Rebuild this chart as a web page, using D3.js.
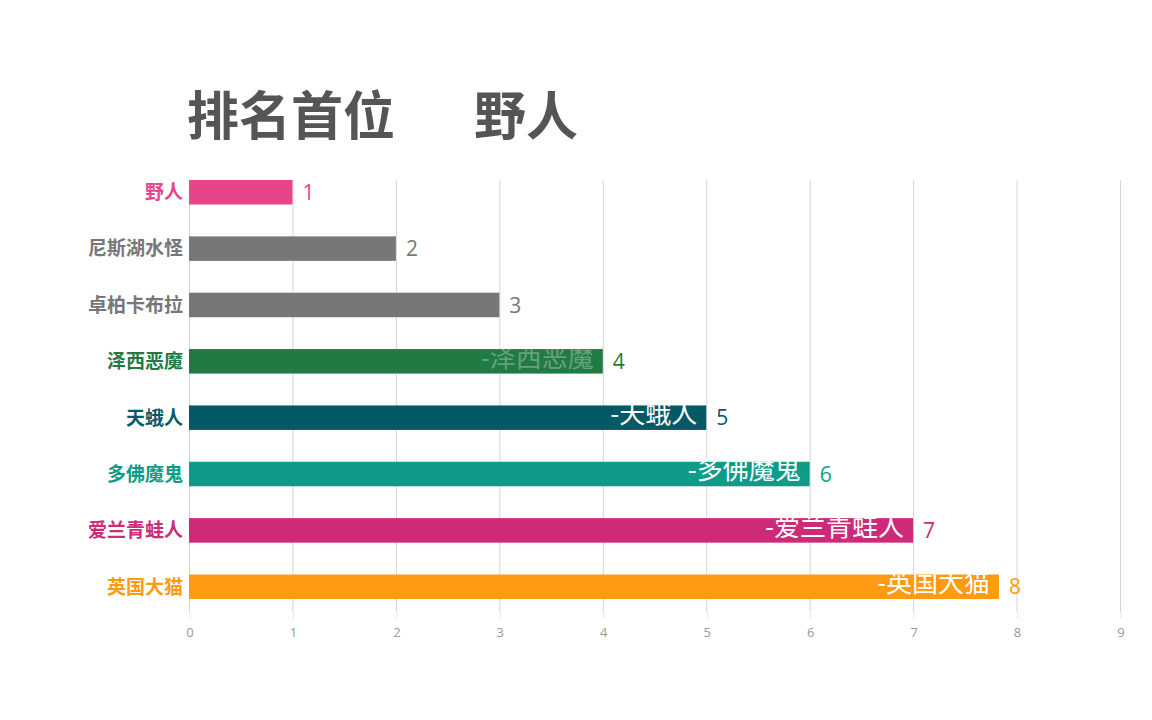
<!DOCTYPE html>
<html>
<head>
<meta charset="utf-8">
<script src="https://cdn.jsdelivr.net/npm/d3@7"></script>
<style>
  body { margin: 0; background: #fff; }
  svg { display: block; }
</style>
</head>
<body>
<div id="main"></div>
<script>
// data for this frame of the race //
const names = ['野人', '尼斯湖水怪', '卓柏卡布拉', '泽西恶魔', '天蛾人', '多佛魔鬼', '爱兰青蛙人', '英国大猫'];
const values = [1, 2, 3, 4, 5, 6, 7, 7.83];
const valueLabels = ['1', '2', '3', '4', '5', '6', '7', '8'];
const colors = ['#E8448A', '#777777', '#777777', '#1F7A43', '#035A66', '#0E9C88', '#CD2A79', '#FF9A12'];
const xTicks = [0, 1, 2, 3, 4, 5, 6, 7, 8, 9];
const titleLeft = '排名首位';
const titleRight = '野人';

const w = 1152;
const h = 720;

const svg = d3.select('#main')
    .append('svg')
    .attr('width', w)
    .attr('height', h);

const rows = names.map((n, i) => ({ name: n, value: values[i], label: valueLabels[i], color: colors[i] }));

// scales //
const xScale = d3.scaleLinear()
    .domain([0, 9])
    .range([189, 1120]);

const yScale = d3.scaleBand()
    .domain(names)
    .range([180, 599])
    .paddingInner(0.565)
    .paddingOuter(0);

// grid lines
svg.append('g')
    .selectAll('line')
    .data(xTicks)
    .enter()
    .append('line')
    .attr('x1', d => xScale(d) + 0.5)
    .attr('x2', d => xScale(d) + 0.5)
    .attr('y1', 180)
    .attr('y2', 612)
    .attr('stroke', '#d4d4d4')
    .attr('stroke-width', 1);

// bottom axis, only ticks + labels
const xAxis = d3.axisBottom(xScale)
    .tickValues(xTicks)
    .tickFormat(d3.format('d'))
    .tickSize(5)
    .tickSizeOuter(0)
    .tickPadding(10);

const gx = svg.append('g')
    .attr('transform', 'translate(0.5,613)')
    .call(xAxis);
gx.select('.domain').remove();
gx.selectAll('line').attr('stroke', '#e2e2e2');
gx.selectAll('text')
    .attr('fill', '#999999')
    .style('font-family', '"Open Sans", sans-serif')
    .style('font-size', '13px');

// bars
svg.append('g')
    .selectAll('rect')
    .data(rows)
    .enter()
    .append('rect')
    .attr('x', xScale(0))
    .attr('y', d => yScale(d.name))
    .attr('width', d => xScale(d.value) - xScale(0))
    .attr('height', yScale.bandwidth())
    .attr('fill', d => d.color);

// names on the left
svg.append('g')
    .selectAll('text')
    .data(rows)
    .enter()
    .append('text')
    .attr('x', 183)
    .attr('y', d => yScale(d.name) + yScale.bandwidth() / 2)
    .attr('dy', '0.36em')
    .attr('text-anchor', 'end')
    .attr('fill', d => d.color)
    .style('font-family', '"Noto Sans CJK SC", sans-serif')
    .style('font-weight', 'bold')
    .style('font-size', '19px')
    .text(d => d.name);

// tags inside the bars (fading in as the bar grows)
svg.append('g')
    .selectAll('text')
    .data(rows.filter(d => d.value >= 4))
    .enter()
    .append('text')
    .attr('x', d => xScale(d.value) - 9)
    .attr('y', d => yScale(d.name) + yScale.bandwidth() / 2)
    .attr('dy', '0.2em')
    .attr('text-anchor', 'end')
    .attr('fill', '#ffffff')
    .attr('opacity', d => d.value >= 5 ? 1 : 0.3)
    .style('font-family', '"Noto Sans CJK SC", sans-serif')
    .style('font-size', '26px')
    .text(d => '-' + d.name);

// value labels
svg.append('g')
    .selectAll('text')
    .data(rows)
    .enter()
    .append('text')
    .attr('x', d => xScale(d.value) + 10)
    .attr('y', d => yScale(d.name) + yScale.bandwidth() / 2)
    .attr('dy', '0.36em')
    .attr('fill', d => d.color)
    .style('font-family', '"Open Sans", sans-serif')
    .style('font-size', '21px')
    .text(d => d.label);

// title
svg.append('text')
    .attr('x', 187)
    .attr('y', 135)
    .attr('fill', '#555555')
    .style('font-family', '"Noto Sans CJK SC", sans-serif')
    .style('font-weight', 'bold')
    .style('font-size', '52px')
    .text(titleLeft);

svg.append('text')
    .attr('x', 474)
    .attr('y', 135)
    .attr('fill', '#555555')
    .style('font-family', '"Noto Sans CJK SC", sans-serif')
    .style('font-weight', 'bold')
    .style('font-size', '52px')
    .text(titleRight);
</script>
</body>
</html>
